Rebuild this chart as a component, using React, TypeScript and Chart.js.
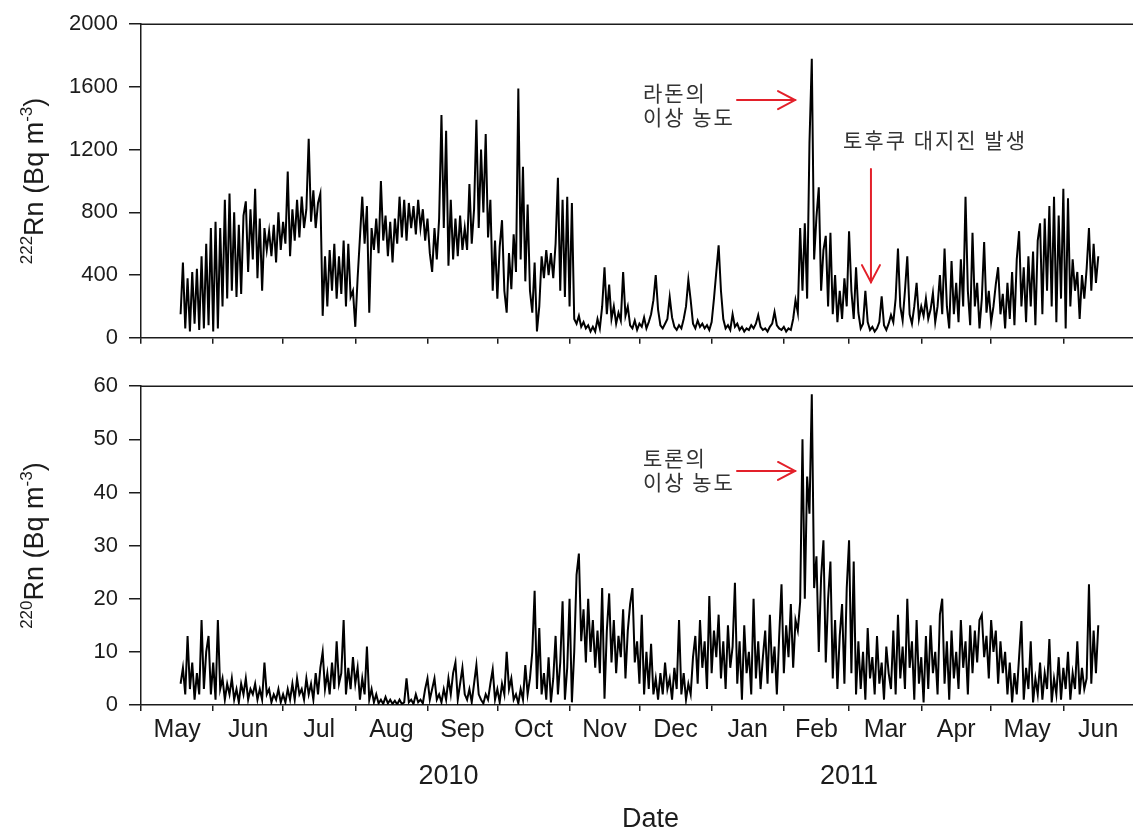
import React, { useEffect, useRef } from 'react';
import { Chart, registerables } from 'chart.js';

Chart.register(...registerables);

// ---- data (daily values, first value = day 17 after 1 May 2010) ----
const START_DAY = 17;

const rn222 = [
  // May 18-31, 2010
  150, 480, 60, 380, 40, 420, 90, 440, 50, 520, 60, 600, 80, 700,
  // Jun 1-14
  40, 740, 60, 700, 200, 880, 250, 920, 300, 800, 260, 720, 280, 780,
  // Jun 15-Jul 1
  870, 420, 820, 500, 950, 380, 760, 300, 700, 560, 680, 520, 720, 480, 800, 560, 740,
  // Jul 2-18
  600, 1060, 520, 820, 620, 880, 640, 900, 700, 820, 1270, 740, 940, 700, 860, 920, 140,
  // Jul 19-Aug 2
  520, 200, 560, 300, 600, 250, 520, 280, 620, 200, 600, 260, 300, 70, 380,
  // Aug 3-19
  640, 900, 600, 840, 160, 700, 560, 760, 540, 1000, 620, 780, 520, 740, 480, 760, 600,
  // Aug 20-Sep 6
  900, 640, 880, 620, 860, 700, 840, 660, 880, 700, 820, 620, 760, 540, 420, 700, 500, 760,
  // Sep 7-16
  1420, 700, 1320, 460, 880, 500, 760, 520, 780, 560,
  // Sep 17-Oct 1
  700, 560, 980, 600, 820, 1390, 700, 1200, 800, 1300, 640, 880, 300, 620, 250,
  // Oct 2-15
  580, 750, 300, 160, 540, 310, 660, 420, 1590, 500, 1090, 360, 850, 300,
  // Oct 16-26
  160, 480, 40, 200, 520, 380, 560, 400, 540, 380, 600,
  // Oct 27-Nov 3
  1020, 300, 880, 260, 900, 200, 860, 120,
  // Nov 4-27
  90, 140, 70, 100, 60, 80, 40, 70, 40, 120, 60, 200, 450, 150, 340, 120, 200, 90, 160, 110, 420, 140, 200, 80,
  // Nov 28-Jan 1
  60, 110, 50, 90, 70, 130, 60, 100, 150, 240, 400, 180, 80, 60, 90, 120, 260, 130, 70, 50, 80, 60, 120, 200, 370,
  240, 90, 60, 110, 70, 90, 60, 80, 50, 100,
  // Jan 2-Feb 7, 2011
  250, 420, 590, 300, 120, 60, 80, 50, 150, 70, 90, 50, 70, 40, 60, 50, 80, 60, 90, 145, 70, 50, 60, 40, 70, 90,
  165, 80, 60, 50, 70, 40, 60, 50, 120, 240, 160,
  // Feb 8-25
  700, 300, 730, 250, 1240, 1780, 500, 770, 960, 300, 560, 650, 200, 670, 150, 400, 100, 300,
  // Feb 26-Mar 19
  120, 380, 200, 680, 300, 120, 450, 160, 60, 90, 300, 100, 50, 70, 40, 60, 100, 265, 80, 50, 90, 145,
  // Mar 20-Apr 11
  100, 250, 570, 200, 110, 300, 520, 150, 90, 200, 350, 120, 200, 140, 250, 120, 180, 285, 100, 200, 400, 150, 570,
  // Apr 12-May 6
  200, 60, 490, 150, 350, 100, 500, 200, 900, 300, 80, 670, 200, 350, 60, 250, 610, 160, 300, 100, 200, 340, 450,
  150, 280,
  // May 7-Jun 2
  60, 350, 120, 420, 80, 500, 680, 200, 450, 100, 520, 200, 550, 80, 620, 730, 150, 760, 300, 840, 200, 900, 100,
  780, 250, 950, 60,
  // Jun 3-16
  890, 200, 500, 300, 420, 120, 400, 250, 440, 700, 300, 600, 350, 520,
];

const rn220 = [
  // May 18-31, 2010
  4, 7, 2, 13, 3, 8, 1, 6, 2, 16, 3, 10, 13, 2,
  // Jun 1-20
  8, 1, 16, 3, 5, 1, 4, 2, 5, 1, 3, 0.5, 4, 2, 5, 1, 3, 2, 4, 1,
  // Jun 21-Jul 4
  3, 1, 8, 2, 3, 0.5, 2, 1, 3, 0.5, 2, 0.5, 3, 1,
  // Jul 5-20
  4, 1, 5, 2, 3, 1, 5, 2, 4, 1, 6, 2, 7, 10, 3, 6,
  // Jul 21-Aug 7
  2, 8, 3, 12, 4, 6, 16, 2, 7, 3, 9, 4, 7, 1, 5, 2, 11, 1,
  // Aug 8-23
  3, 0.5, 2, 0.3, 1, 0.2, 1.5, 0.3, 1, 0.2, 0.8, 0.1, 1, 0.2, 0.5, 5,
  // Aug 24-Sep 9
  0.5, 1, 0.2, 2, 0.5, 1, 0.3, 3, 5, 1, 3, 5, 1, 2, 0.5, 3, 1,
  // Sep 10-Oct 8
  5, 2, 6, 8, 1, 4, 7, 2, 1, 3, 0.5, 4, 7.5, 2, 1, 0.3, 2, 1, 4, 6.7, 1, 3, 0.5, 4, 2, 10, 3, 5, 1,
  // Oct 9-18
  2, 0.3, 3, 1, 7.5, 2, 5, 10, 21.5, 3,
  // Oct 19-Nov 2
  14.5, 2, 6, 1, 9, 0.5, 5, 13, 2, 8, 19.5, 1, 7, 20, 0.5,
  // Nov 3-15
  10, 24.5, 28.5, 12, 18, 8, 20, 10, 16, 7, 14, 6, 22,
  // Nov 16-Dec 4
  1.2, 14, 21, 8, 16, 6, 13, 9, 18, 5, 14, 19, 22, 8, 12, 4, 17, 2, 10,
  // Dec 5-24
  3, 11.5, 2, 5, 1, 6, 2, 8, 3, 5, 1, 7, 3, 16, 2, 6, 1, 4, 2, 9,
  // Dec 25-Jan 11, 2011
  13, 4, 16, 7, 12, 3, 20.5, 6, 14, 9, 17, 5, 12, 3, 15, 7, 11, 23,
  // Jan 12-31
  4, 12, 1, 15, 6, 10, 2, 20, 5, 12, 3, 9, 14, 4, 17, 6, 11, 2, 13, 22.7,
  // Feb 1-16
  6, 15, 9, 19, 7, 16, 14, 19.4, 50, 20, 43, 36, 58.5, 22, 28, 10,
  // Feb 17-Mar 4
  24, 31, 8, 20, 27, 5, 16, 3, 13, 19, 4, 22, 31, 6, 27, 2,
  // Mar 5-19
  12, 3, 10, 1, 14.5, 5, 9, 2, 13, 4, 8, 1, 11, 6, 3,
  // Mar 20-Apr 2
  14, 2, 17, 5, 11, 3, 20, 7, 12, 1, 16, 4, 9, 0.5,
  // Apr 3-23
  13, 3, 15, 6, 10, 2, 17, 20, 4, 12, 1, 14, 5, 10, 3, 16, 7, 12, 2, 15, 6,
  // Apr 24-May 7
  14, 8, 16, 17, 9, 13, 5, 16, 10, 14, 4, 12, 6, 10,
  // May 8-22
  2, 8, 0.5, 6, 2, 9, 15.8, 1, 7, 3, 12, 0.5, 5, 2, 8,
  // May 23-Jun 5
  1, 6, 3, 12.4, 0.5, 5, 2, 9, 1, 7, 3, 10, 1, 6,
  // Jun 6-16
  3, 12, 2, 7, 3, 5, 22.7, 4, 14, 6, 15,
];

// month boundaries (days after 1 May 2010) and labels
const monthStarts = [0, 31, 61, 92, 123, 153, 184, 214, 245, 276, 304, 335, 365, 396, 426];
const monthNames = ['May', 'Jun', 'Jul', 'Aug', 'Sep', 'Oct', 'Nov', 'Dec', 'Jan', 'Feb', 'Mar', 'Apr', 'May', 'Jun'];
const yearNames = ['2010', '2011'];
const yearDays = [132, 304];
const rn222Ticks = [0, 400, 800, 1200, 1600, 2000];
const rn220Ticks = [0, 10, 20, 30, 40, 50, 60];

const X_MAX = 437.5;
const FONT = "'Liberation Sans', Arial, Helvetica, sans-serif";
const KFONT = "'Noto Sans CJK KR', 'Noto Sans CJK SC', sans-serif";
const INK = '#1c1c1c';
const RED = '#e3202a';

const tickStarts = monthStarts.slice(0, monthStarts.length - 1);
const monthMids = monthNames.map((_, i) => (monthStarts[i] + monthStarts[i + 1]) / 2);

function series(values: number[]) {
  return values.map((v, i) => ({ x: START_DAY + i, y: v }));
}

type Note = { lines: string[]; day: number; values: number[] };
type Arrow = { from: [number, number]; to: [number, number] };

function notesPlugin(notes: Note[], arrows: Arrow[]) {
  return {
    id: 'notes',
    afterDatasetsDraw(chart: any) {
      const { ctx, scales } = chart;
      const xs = scales.x;
      const ys = scales.y;
      ctx.save();
      ctx.font = `21px ${KFONT}`;
      ctx.fillStyle = '#333';
      ctx.textBaseline = 'middle';
      ctx.textAlign = 'left';
      try {
        (ctx as any).letterSpacing = '2px';
      } catch (e) {
        /* ignore */
      }
      notes.forEach((n) =>
        n.lines.forEach((t, i) => ctx.fillText(t, xs.getPixelForValue(n.day), ys.getPixelForValue(n.values[i])))
      );
      ctx.strokeStyle = RED;
      ctx.lineWidth = 2;
      ctx.lineCap = 'round';
      arrows.forEach((a) => {
        const x1 = xs.getPixelForValue(a.from[0]);
        const y1 = ys.getPixelForValue(a.from[1]);
        const x2 = xs.getPixelForValue(a.to[0]);
        const y2 = ys.getPixelForValue(a.to[1]);
        const ang = Math.atan2(y2 - y1, x2 - x1);
        const L = 17;
        const W = 9;
        ctx.beginPath();
        ctx.moveTo(x1, y1);
        ctx.lineTo(x2, y2);
        ctx.stroke();
        const bx = x2 - L * Math.cos(ang);
        const by = y2 - L * Math.sin(ang);
        const px = -Math.sin(ang) * W;
        const py = Math.cos(ang) * W;
        ctx.beginPath();
        ctx.moveTo(bx + px, by + py);
        ctx.lineTo(x2, y2);
        ctx.lineTo(bx - px, by - py);
        ctx.stroke();
      });
      ctx.restore();
    },
  };
}

// y-axis title with real superscripts: [isotope, unit-exponent]
function yTitlePlugin(isotope: string, exponent: string) {
  return {
    id: 'ytitle',
    afterDraw(chart: any) {
      const { ctx, chartArea } = chart;
      const cy = (chartArea.top + chartArea.bottom) / 2;
      const cx = 33;
      const big = `27px ${FONT}`;
      const small = `17px ${FONT}`;
      const parts: [string, string, number][] = [
        [isotope, small, -11],
        ['Rn (Bq m', big, 0],
        [exponent, small, -11],
        [')', big, 0],
      ];
      ctx.save();
      let total = 0;
      const widths = parts.map(([t, f]) => {
        ctx.font = f;
        const w = ctx.measureText(t).width;
        total += w;
        return w;
      });
      ctx.translate(cx, cy);
      ctx.rotate(-Math.PI / 2);
      ctx.fillStyle = INK;
      ctx.textBaseline = 'alphabetic';
      ctx.textAlign = 'left';
      let x = -total / 2;
      parts.forEach(([t, f, dy], i) => {
        ctx.font = f;
        ctx.fillText(t, x, 10 + dy);
        x += widths[i];
      });
      ctx.restore();
    },
  };
}

const framePlugin = {
  id: 'frame',
  afterDraw(chart: any) {
    const { ctx, chartArea } = chart;
    ctx.save();
    ctx.strokeStyle = INK;
    ctx.lineWidth = 1.5;
    ctx.beginPath();
    ctx.moveTo(chartArea.left, chartArea.top);
    ctx.lineTo(chartArea.right, chartArea.top);
    ctx.stroke();
    ctx.restore();
  },
};

function yScale(max: number, ticks: number[]) {
  return {
    min: 0,
    max,
    afterBuildTicks: (s: any) => {
      s.ticks = ticks.map((v) => ({ value: v }));
    },
    ticks: {
      color: INK,
      font: { family: FONT, size: 22 },
      padding: 11,
      callback: (v: any) => String(v),
    },
    grid: { drawOnChartArea: false, drawTicks: true, tickLength: 12, color: INK, lineWidth: 1.5 },
    border: { display: true, color: INK, width: 1.5 },
    title: { display: false },
    afterFit: (s: any) => {
      s.width = 141;
    },
  };
}

function lineDataset(values: number[]) {
  return {
    data: series(values),
    borderColor: '#000',
    borderWidth: 2,
    pointRadius: 0,
    tension: 0,
    fill: false,
  };
}

const baseOptions = {
  animation: false as const,
  responsive: false,
  devicePixelRatio: 1,
  events: [] as any[],
  plugins: { legend: { display: false }, tooltip: { enabled: false } },
};

export default function App() {
  const topRef = useRef<HTMLCanvasElement>(null);
  const botRef = useRef<HTMLCanvasElement>(null);

  useEffect(() => {
    const top = new Chart(topRef.current as HTMLCanvasElement, {
      type: 'line',
      data: { datasets: [lineDataset(rn222) as any] },
      options: {
        ...baseOptions,
        layout: { padding: { top: 21, left: 0, right: 0, bottom: 0 } },
        scales: {
          x: {
            type: 'linear',
            min: 0,
            max: X_MAX,
            afterBuildTicks: (s: any) => {
              s.ticks = tickStarts.map((v) => ({ value: v }));
            },
            ticks: { display: false, autoSkip: false },
            grid: { drawOnChartArea: false, tickLength: 6, color: INK, lineWidth: 1.5 },
            border: { display: true, color: INK, width: 1.5 },
            afterFit: (s: any) => {
              s.height = 11;
            },
          },
          y: yScale(2000, rn222Ticks),
        },
      } as any,
      plugins: [
        framePlugin,
        yTitlePlugin('222', '-3'),
        notesPlugin(
          [
            { lines: ['라돈의', '이상 농도'], day: 215.5, values: [1560, 1405] },
            { lines: ['토후쿠 대지진 발생'], day: 301.4, values: [1260] },
          ],
          [
            { from: [255.9, 1516], to: [280.8, 1516] },
            { from: [313.4, 1077], to: [313.4, 355] },
          ]
        ),
      ],
    });

    const bottom = new Chart(botRef.current as HTMLCanvasElement, {
      type: 'line',
      data: { datasets: [lineDataset(rn220) as any] },
      options: {
        ...baseOptions,
        layout: { padding: { top: 12, left: 0, right: 0, bottom: 0 } },
        scales: {
          x: {
            type: 'linear',
            position: 'bottom',
            weight: 0,
            min: 0,
            max: X_MAX,
            afterBuildTicks: (s: any) => {
              s.ticks = [...tickStarts.map((v) => ({ value: v })), ...monthMids.map((v) => ({ value: v }))];
            },
            ticks: {
              autoSkip: false,
              maxRotation: 0,
              minRotation: 0,
              padding: 4,
              color: INK,
              font: { family: FONT, size: 25 },
              callback: (v: any) => {
                const i = monthMids.indexOf(v);
                return i >= 0 ? monthNames[i] : '';
              },
            },
            grid: {
              drawOnChartArea: false,
              tickLength: 6,
              lineWidth: 1.5,
              color: (c: any) => (c.tick && tickStarts.includes(c.tick.value) ? INK : 'rgba(0,0,0,0)'),
            },
            border: { display: true, color: INK, width: 1.5 },
            afterFit: (s: any) => {
              s.height = 52;
            },
          },
          xYears: {
            type: 'linear',
            position: 'bottom',
            weight: 1,
            min: 0,
            max: X_MAX,
            afterBuildTicks: (s: any) => {
              s.ticks = yearDays.map((v) => ({ value: v }));
            },
            ticks: {
              autoSkip: false,
              maxRotation: 0,
              minRotation: 0,
              padding: 3,
              color: INK,
              font: { family: FONT, size: 27 },
              callback: (v: any) => {
                const i = yearDays.indexOf(v);
                return i >= 0 ? yearNames[i] : '';
              },
            },
            grid: { display: false, drawTicks: false },
            border: { display: false },
            title: {
              display: true,
              text: 'Date',
              color: INK,
              font: { family: FONT, size: 27 },
              padding: { top: 0, bottom: 0 },
            },
            afterFit: (s: any) => {
              s.height = 79;
            },
          },
          y: yScale(60, rn220Ticks),
        },
      } as any,
      plugins: [
        framePlugin,
        yTitlePlugin('220', '-3'),
        notesPlugin(
          [{ lines: ['토론의', '이상 농도'], day: 215.5, values: [46.4, 41.9] }],
          [{ from: [255.9, 44.05], to: [280.8, 44.05] }]
        ),
      ],
    });

    return () => {
      top.destroy();
      bottom.destroy();
    };
  }, []);

  return (
    <div
      style={{
        position: 'absolute',
        left: 0,
        top: 0,
        width: 1133,
        height: 836,
        overflow: 'hidden',
        background: '#fff',
      }}
    >
      <canvas
        ref={topRef}
        width={1160}
        height={362}
        style={{ position: 'absolute', left: 0, top: 0, width: 1160, height: 362 }}
      />
      <canvas
        ref={botRef}
        width={1160}
        height={474}
        style={{ position: 'absolute', left: 0, top: 362, width: 1160, height: 474 }}
      />
    </div>
  );
}
